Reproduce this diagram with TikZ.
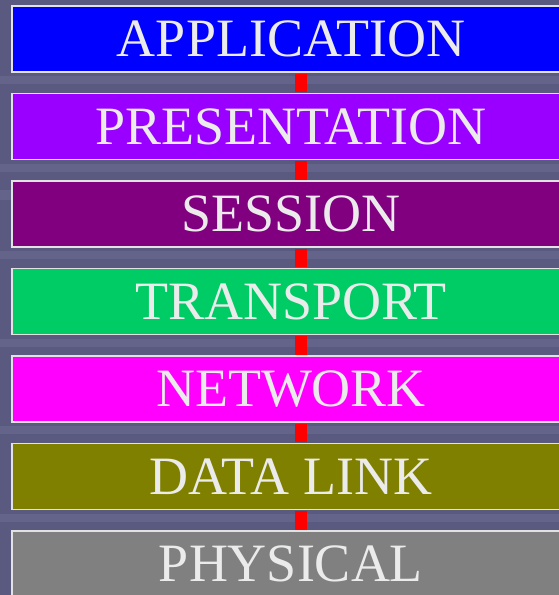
\documentclass[tikz,border=0pt]{standalone}
\usepackage{fontspec}
\setmainfont{Liberation Serif}
\definecolor{bgslate}{HTML}{5A5A80}
\definecolor{bglight}{HTML}{64648A}
\definecolor{txtgray}{HTML}{EBEBEB}
\definecolor{edgegray}{HTML}{E2E2E2}
\definecolor{cApp}{HTML}{0000FF}
\definecolor{cPres}{HTML}{9900FF}
\definecolor{cSess}{HTML}{800080}
\definecolor{cTrans}{HTML}{00CC66}
\definecolor{cNet}{HTML}{FF00FF}
\definecolor{cData}{HTML}{808000}
\definecolor{cPhys}{HTML}{808080}
\begin{document}
\begin{tikzpicture}[x=1pt,y=-1pt,
  layer/.style={draw=edgegray, line width=1.5pt, rectangle, minimum width=558pt,
    minimum height=66pt, inner sep=0pt, text=txtgray,
    font=\fontsize{54}{60}\selectfont},
  link/.style={draw=red, line width=12pt}]
\useasboundingbox (0,0) rectangle (559,595);
\clip (0,0) rectangle (559,595);
\fill[bgslate] (0,0) rectangle (559,595);
% subtle brick texture in the gaps
\foreach \g in {72,159.5,247,334.5,422,509.5}{
  \fill[bglight] (0,\g+4) rectangle (559,\g+12);
}
\fill[bglight] (0,190) rectangle (11,200);
% layers
\node[layer, fill=cApp]   (app)   at (291,39)    {APPLICATION};
\node[layer, fill=cPres]  (pres)  at (291,126.5) {PRESENTATION};
\node[layer, fill=cSess]  (sess)  at (291,214)   {SESSION};
\node[layer, fill=cTrans] (trans) at (291,301.5) {TRANSPORT};
\node[layer, fill=cNet]   (net)   at (291,389)   {NETWORK};
\node[layer, fill=cData]  (data)  at (291,476.5) {DATA LINK};
\node[layer, fill=cPhys]  (phys)  at (291,564)   {PHYSICAL};
% red links
\draw[link] ([xshift=10pt,yshift=-0.75pt]app.south)   -- ([xshift=10pt,yshift=0.75pt]pres.north);
\draw[link] ([xshift=10pt,yshift=-0.75pt]pres.south)  -- ([xshift=10pt,yshift=0.75pt]sess.north);
\draw[link] ([xshift=10pt,yshift=-0.75pt]sess.south)  -- ([xshift=10pt,yshift=0.75pt]trans.north);
\draw[link] ([xshift=10pt,yshift=-0.75pt]trans.south) -- ([xshift=10pt,yshift=0.75pt]net.north);
\draw[link] ([xshift=10pt,yshift=-0.75pt]net.south)   -- ([xshift=10pt,yshift=0.75pt]data.north);
\draw[link] ([xshift=10pt,yshift=-0.75pt]data.south)  -- ([xshift=10pt,yshift=0.75pt]phys.north);
\end{tikzpicture}
\end{document}
